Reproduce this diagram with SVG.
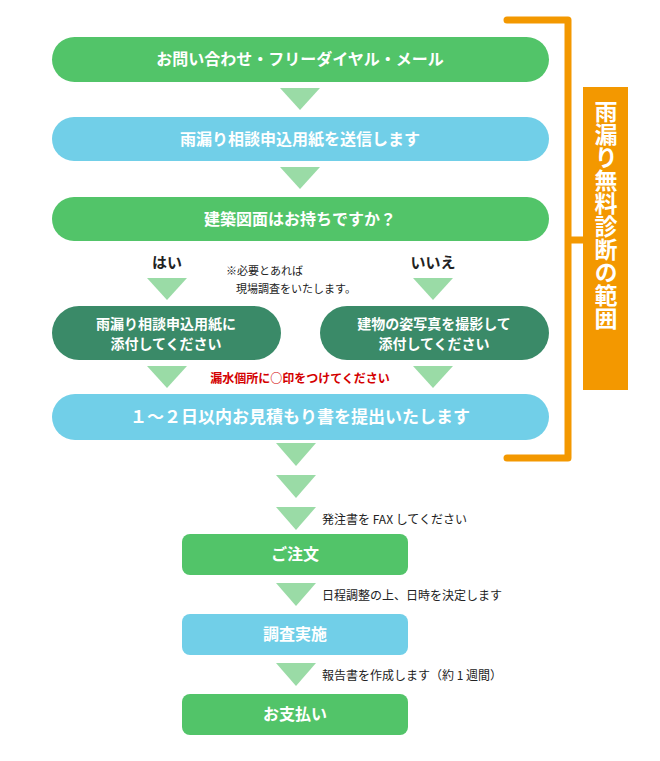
<svg xmlns="http://www.w3.org/2000/svg" width="660" height="761" viewBox="0 0 660 761">
<style>
.g{fill:#52c469}.b{fill:#71cfe8}.d{fill:#3a8a68}.t{fill:#9adba6}
.w{fill:#fff;font-family:"Noto Sans CJK JP",sans-serif;font-weight:bold;font-size:16px;text-anchor:middle}
.k{fill:#222;font-family:"Noto Sans CJK JP",sans-serif;font-size:12px}
</style>
<g id="connectors">
<polygon class="t" points="280,88 320,88 300,110"/>
<polygon class="t" points="280,167 320,167 300,189"/>
<polygon class="t" points="147,278 187,278 167,300"/>
<polygon class="t" points="413,278 453,278 433,300"/>
<polygon class="t" points="147,366 187,366 167,388"/>
<polygon class="t" points="413,366 453,366 433,388"/>
<polygon class="t" points="276,443 316,443 296,466"/>
<polygon class="t" points="276,475 316,475 296,498"/>
<polygon class="t" points="276,507 316,507 296,530"/>
<polygon class="t" points="276,583 316,583 296,606"/>
<polygon class="t" points="276,663 316,663 296,686"/>
<text class="k" x="167" y="268" text-anchor="middle" style="font-size:15px;font-weight:bold">はい</text>
<text class="k" x="433" y="268" text-anchor="middle" style="font-size:15px;font-weight:bold">いいえ</text>
<text class="k" x="226" y="275" style="font-size:11px">※必要とあれば</text>
<text class="k" x="236" y="293" style="font-size:11px">現場調査をいたします。</text>
<text class="k" x="300" y="383" text-anchor="middle" style="fill:#d40000;font-weight:bold">漏水個所に○印をつけてください</text>
<text class="k" x="322" y="524">発注書を FAX してください</text>
<text class="k" x="322" y="600">日程調整の上、日時を決定します</text>
<text class="k" x="322" y="680">報告書を作成します（約 1 週間）</text>
</g>
<g id="n1"><rect class="g" x="52" y="37" width="497" height="45" rx="22.5"/><text class="w" x="300" y="65">お問い合わせ・フリーダイヤル・メール</text></g>
<g id="n2"><rect class="b" x="52" y="117" width="497" height="44" rx="22"/><text class="w" x="300" y="145">雨漏り相談申込用紙を送信します</text></g>
<g id="n3"><rect class="g" x="52" y="197" width="497" height="44" rx="22"/><text class="w" x="300" y="225">建築図面はお持ちですか？</text></g>
<g id="n4"><rect class="d" x="52" y="306" width="229" height="54" rx="27"/><text class="w" x="166" y="329" style="font-size:14px">雨漏り相談申込用紙に</text><text class="w" x="166" y="349" style="font-size:14px">添付してください</text></g>
<g id="n5"><rect class="d" x="320" y="306" width="229" height="54" rx="27"/><text class="w" x="434" y="329" style="font-size:14px">建物の姿写真を撮影して</text><text class="w" x="434" y="349" style="font-size:14px">添付してください</text></g>
<g id="n6"><rect class="b" x="52" y="394" width="497" height="46" rx="23"/><text class="w" x="300" y="423" style="font-size:17px">１～２日以内お見積もり書を提出いたします</text></g>
<g id="n7"><rect class="g" x="182" y="534" width="226" height="41" rx="8"/><text class="w" x="295" y="560">ご注文</text></g>
<g id="n8"><rect class="b" x="182" y="614" width="226" height="41" rx="8"/><text class="w" x="295" y="640">調査実施</text></g>
<g id="n9"><rect class="g" x="182" y="694" width="226" height="41" rx="8"/><text class="w" x="295" y="720">お支払い</text></g>
<g id="range">
<path d="M507,20 H568 V458 H507 M568,240 H585" fill="none" stroke="#f39800" stroke-width="7" stroke-linecap="round" stroke-linejoin="round"/>
<rect x="583" y="87" width="45" height="303" fill="#f39800"/>
<text x="606" y="100" fill="#fff" font-family="Noto Sans CJK JP,sans-serif" font-weight="bold" font-size="23" style="writing-mode:vertical-rl" text-anchor="start">雨漏り無料診断の範囲</text>
</g>
</svg>
